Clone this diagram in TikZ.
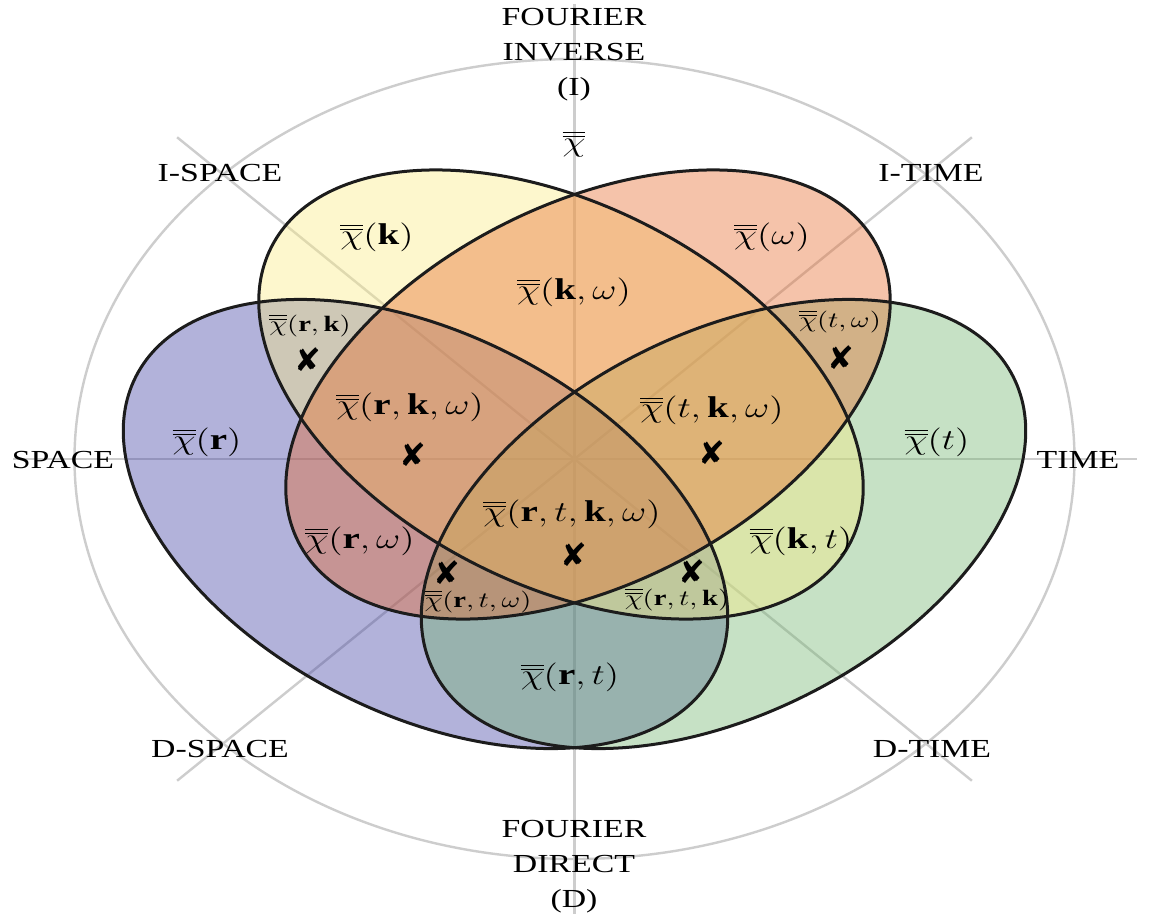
\documentclass[tikz,border=0pt]{standalone}
\usepackage{fontspec}
\setmainfont{Liberation Serif}
\newfontfamily\dejavu{DejaVu Sans}
\usepackage{graphicx}
\newcommand{\hx}[1]{\scalebox{1.3}[1]{#1}}
\newcommand{\cbb}{\overline{\overline{\chi}}}
\definecolor{cyel}{RGB}{250,235,130}
\definecolor{cred}{RGB}{230,105,43}
\definecolor{cblue}{RGB}{63,63,163}
\definecolor{cgreen}{RGB}{113,180,110}
\definecolor{axisgray}{RGB}{205,205,205}
\definecolor{edge}{RGB}{28,28,28}
\begin{document}
\begin{tikzpicture}[x=0.5pt,y=-0.5pt,
  axis/.style={draw=axisgray, line width=1.2pt},
  setfill/.style={fill opacity=0.4},
  outline/.style={draw=edge, line width=1.5pt},
  lbl/.style={inner sep=0pt, font=\fontsize{13}{17.5}\selectfont},
  mainlbl/.style={inner sep=0pt, font=\fontsize{15}{17}\selectfont},
  smalllbl/.style={inner sep=0pt, font=\fontsize{11}{13}\selectfont},
  xmark/.style={inner sep=0pt, font=\dejavu\fontsize{16}{18}\selectfont}]
\fill[white] (0,0) rectangle (1152,916);
\useasboundingbox (0,0) rectangle (1152,916);
\coordinate (O) at (574.5,459);
% background axes
\foreach \a in {0,45,...,315}
  \draw[axis] (O) -- ++({562*cos(\a)},{455*sin(\a)});
\draw[axis] (O) ellipse [x radius=500, y radius=400];
% set fills (r, t, k, omega)
\foreach \cx/\cy/\ang/\col in {425.5/524/-27/cblue, 723.5/524/27/cgreen, 561/394.5/-27/cyel, 588/394.5/27/cred}{
  \begin{scope}[shift={(\cx,\cy)}, rotate=\ang]
    \fill[\col, setfill] (0,0) ellipse [x radius=325, y radius=190];
  \end{scope}}
% set outlines
\foreach \cx/\cy/\ang in {425.5/524/-27, 723.5/524/27, 561/394.5/-27, 588/394.5/27}{
  \begin{scope}[shift={(\cx,\cy)}, rotate=\ang]
    \draw[outline] (0,0) ellipse [x radius=325, y radius=190];
  \end{scope}}
% axis labels
\node[lbl] (fi) at (574,53) {\hx{\begin{tabular}{@{}c@{}}FOURIER\\INVERSE\\(I)\end{tabular}}};
\node[lbl] (fd) at (574,865) {\hx{\begin{tabular}{@{}c@{}}FOURIER\\DIRECT\\(D)\end{tabular}}};
\node[lbl] (ispace) at (220,173) {\hx{I-SPACE}};
\node[lbl] (itime) at (931,173) {\hx{I-TIME}};
\node[lbl] (space) at (63,460) {\hx{SPACE}};
\node[lbl] (time) at (1078,460) {\hx{TIME}};
\node[lbl] (dspace) at (220,749) {\hx{D-SPACE}};
\node[lbl] (dtime) at (932,749) {\hx{D-TIME}};
% region labels
\node[mainlbl] (c0) at (574,144) {\hx{$\cbb$}};
\node[mainlbl] (ck) at (377,237) {\hx{$\cbb(\mathbf{k})$}};
\node[mainlbl] (cw) at (772,237) {\hx{$\cbb(\omega)$}};
\node[mainlbl] (ckw) at (574,292) {\hx{$\cbb(\mathbf{k},\omega)$}};
\node[smalllbl] (crk) at (310,326) {\hx{$\cbb(\mathbf{r},\mathbf{k})$}};
\node[smalllbl] (ctw) at (840,322) {\hx{$\cbb(t,\omega)$}};
\node[mainlbl] (crkw) at (410,407) {\hx{$\cbb(\mathbf{r},\mathbf{k},\omega)$}};
\node[mainlbl] (ctkw) at (712,410) {\hx{$\cbb(t,\mathbf{k},\omega)$}};
\node[mainlbl] (cr) at (207,442) {\hx{$\cbb(\mathbf{r})$}};
\node[mainlbl] (ct) at (937,442) {\hx{$\cbb(t)$}};
\node[mainlbl] (call) at (572,514) {\hx{$\cbb(\mathbf{r},t,\mathbf{k},\omega)$}};
\node[mainlbl] (crw) at (360,541) {\hx{$\cbb(\mathbf{r},\omega)$}};
\node[mainlbl] (ckt) at (801,541) {\hx{$\cbb(\mathbf{k},t)$}};
\node[smalllbl] (crtw) at (478,602) {\hx{$\cbb(\mathbf{r},t,\omega)$}};
\node[smalllbl] (crtk) at (677,600) {\hx{$\cbb(\mathbf{r},t,\mathbf{k})$}};
\node[mainlbl] (crt) at (570,677) {\hx{$\cbb(\mathbf{r},t)$}};
% cross marks
\node[xmark] (x1) at (308,360) {✘};
\node[xmark] (x2) at (413,455) {✘};
\node[xmark] (x3) at (712,453) {✘};
\node[xmark] (x4) at (841,358) {✘};
\node[xmark] (x5) at (574,555) {✘};
\node[xmark] (x6) at (447,573) {✘};
\node[xmark] (x7) at (692,572) {✘};
\end{tikzpicture}
\end{document}
